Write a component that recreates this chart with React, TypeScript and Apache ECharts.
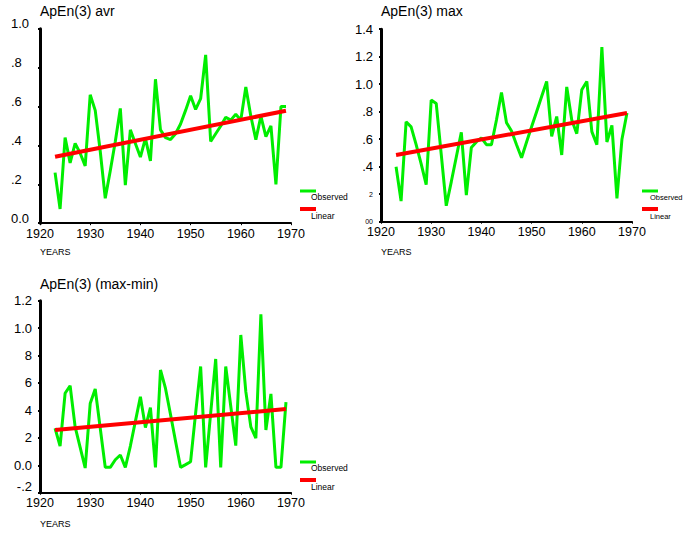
import React, { useEffect, useRef } from "react";
import * as echarts from "echarts";

const years = [
  1923, 1924, 1925, 1926, 1927, 1928, 1929, 1930, 1931, 1932,
  1933, 1934, 1935, 1936, 1937, 1938, 1939, 1940, 1941, 1942,
  1943, 1944, 1945, 1946, 1947, 1948, 1949, 1950, 1951, 1952,
  1953, 1954, 1955, 1956, 1957, 1958, 1959, 1960, 1961, 1962,
  1963, 1964, 1965, 1966, 1967, 1968, 1969,
];

const avrObserved = [
  0.26, 0.073, 0.44, 0.31, 0.41, 0.36, 0.295, 0.66, 0.58, 0.37,
  0.128, 0.27, 0.42, 0.59, 0.196, 0.48, 0.41, 0.34, 0.436, 0.32,
  0.74, 0.48, 0.44, 0.43, 0.46, 0.51, 0.58, 0.655, 0.585, 0.64,
  0.865, 0.42, 0.46, 0.5, 0.545, 0.53, 0.56, 0.53, 0.7, 0.55,
  0.43, 0.55, 0.445, 0.5, 0.2, 0.6, 0.6,
];

const maxObserved = [
  0.4, 0.15, 0.727, 0.69, 0.56, 0.42, 0.27, 0.885, 0.86, 0.49,
  0.116, 0.29, 0.47, 0.65, 0.194, 0.54, 0.58, 0.61, 0.56, 0.56,
  0.74, 0.94, 0.72, 0.66, 0.56, 0.465, 0.58, 0.69, 0.8, 0.91,
  1.02, 0.62, 0.765, 0.485, 0.98, 0.74, 0.64, 0.96, 1.02, 0.655,
  0.56, 1.27, 0.58, 0.7, 0.17, 0.6, 0.79,
];

const rangeObserved = [
  0.27, 0.14, 0.525, 0.58, 0.28, 0.13, -0.02, 0.45, 0.556, 0.27,
  -0.015, -0.015, 0.04, 0.075, -0.015, 0.14, 0.32, 0.5, 0.275, 0.42,
  -0.015, 0.695, 0.56, 0.37, 0.175, -0.015, 0.005, 0.026, 0.38, 0.72,
  -0.015, 0.38, 0.775, -0.015, 0.72, 0.43, 0.143, 0.95, 0.537, 0.28,
  0.197, 1.1, 0.257, 0.52, -0.015, -0.015, 0.46,
];

const linearYears = [1923, 1969];
const avrLinear = [0.342, 0.578];
const maxLinear = [0.485, 0.79];
const rangeLinear = [0.257, 0.41];

const xTickLabels = ["1920", "1930", "1940", "1950", "1960", "1970"];
const avrTickLabels = ["0.0", ".2", ".4", ".6", ".8", "1.0"];
const maxTickLabels = ["00", "2", ".4", ".6", ".8", "1.0", "1.2", "1.4"];
const rangeTickLabels = ["-.2", "0.0", "2", "4", "6", "8", "1.0", "1.2"];

const titles = ["ApEn(3) avr", "ApEn(3) max", "ApEn(3) (max-min)"];
const legendNames = ["Observed", "Linear"];

const NARROW = "'Liberation Sans Narrow', 'Liberation Sans', Arial, sans-serif";
const SANS = "'Liberation Sans', Arial, sans-serif";
const GREEN = "#00ee00";
const RED = "#ff0000";

function pairs(xs: number[], ys: number[]) {
  return ys.map((v, i) => [xs[i], v]);
}

export default function App() {
  const ref = useRef<HTMLDivElement>(null);

  useEffect(() => {
    if (!ref.current) return;
    const chart = echarts.init(ref.current, null, { renderer: "svg" });

    const grids = [
      { left: 40, top: 28.7, width: 251, height: 194.5 },
      { left: 381, top: 29.2, width: 251, height: 192.5 },
      { left: 40, top: 300.7, width: 251, height: 192 },
    ];

    const yCfg = [
      { min: 0, max: 1, labels: avrTickLabels, align: "left", margin: 29, small: [] as number[], raise: [] as number[], up: true },
      { min: 0, max: 1.4, labels: maxTickLabels, align: "right", margin: 8, small: [0, 1], raise: [] as number[], up: false },
      { min: -0.2, max: 1.2, labels: rangeTickLabels, align: "right", margin: 8, small: [] as number[], raise: [0], up: false },
    ];

    const xAxis = grids.map((_, i) => ({
      type: "value",
      gridIndex: i,
      min: 1920,
      max: 1970,
      interval: 10,
      axisLine: { show: true, onZero: false, lineStyle: { color: "#000", width: 2 } },
      axisTick: { show: true, length: 2, lineStyle: { color: "#000", width: 1 } },
      axisLabel: {
        margin: 4,
        fontSize: 12.5,
        fontFamily: NARROW,
        color: "#000",
        formatter: (v: number) => xTickLabels[Math.round((v - 1920) / 10)] ?? "",
      },
      splitLine: { show: false },
    }));

    const yAxis = yCfg.map((c, i) => ({
      type: "value",
      gridIndex: i,
      min: c.min,
      max: c.max,
      interval: 0.2,
      axisLine: { show: true, onZero: false, lineStyle: { color: "#000", width: 3 } },
      axisTick: { show: true, length: 2, lineStyle: { color: "#000", width: 2 } },
      axisLabel: {
        margin: c.margin,
        align: c.align,
        fontSize: 13,
        fontFamily: NARROW,
        color: "#000",
        padding: c.up ? [0, 0, 10, 0] : 0,
        formatter: (v: number) => {
          const idx = Math.round((v - c.min) / 0.2);
          const t = c.labels[idx] ?? "";
          if (c.small.indexOf(idx) >= 0) return "{s|" + t + "}";
          if (c.raise.indexOf(idx) >= 0) return "{u|" + t + "}";
          return t;
        },
        rich: {
          s: { fontSize: 7, fontFamily: SANS, color: "#000" },
          u: { fontSize: 13, fontFamily: NARROW, color: "#000", padding: [0, 0, 12, 0] },
        },
      },
      splitLine: { show: false },
    }));

    const observed = [avrObserved, maxObserved, rangeObserved];
    const linear = [avrLinear, maxLinear, rangeLinear];
    const series: any[] = [];
    for (let i = 0; i < 3; i++) {
      series.push({
        type: "line",
        name: legendNames[0],
        xAxisIndex: i,
        yAxisIndex: i,
        data: pairs(years, observed[i]),
        showSymbol: false,
        lineStyle: { color: GREEN, width: 3 },
        z: 2,
      });
      series.push({
        type: "line",
        name: legendNames[1],
        xAxisIndex: i,
        yAxisIndex: i,
        data: pairs(linearYears, linear[i]),
        showSymbol: false,
        lineStyle: { color: RED, width: 4 },
        z: 3,
      });
    }

    const title = [
      { text: titles[0], left: 40, top: 4 },
      { text: titles[1], left: 381, top: 4 },
      { text: titles[2], left: 40, top: 277 },
    ].map((t) => ({
      ...t,
      padding: 0,
      textStyle: { fontSize: 14, fontWeight: "normal", fontFamily: SANS, color: "#000" },
    }));

    const legendPos = [
      { x: 300, y: 191, tx: 311, fs: 8.5 },
      { x: 642, y: 191, tx: 650, fs: 7.5 },
      { x: 300, y: 462, tx: 311, fs: 8.5 },
    ];
    const graphic: any[] = [];
    legendPos.forEach((p) => {
      graphic.push({
        type: "line",
        shape: { x1: p.x, y1: p.y, x2: p.x + 16, y2: p.y },
        style: { stroke: GREEN, lineWidth: 3 },
      });
      graphic.push({
        type: "text",
        x: p.tx,
        y: p.y + 6,
        style: { text: legendNames[0], fontSize: p.fs, fontFamily: SANS, fill: "#000", verticalAlign: "middle" },
      });
      graphic.push({
        type: "line",
        shape: { x1: p.x, y1: p.y + 18, x2: p.x + 16, y2: p.y + 18 },
        style: { stroke: RED, lineWidth: 4 },
      });
      graphic.push({
        type: "text",
        x: p.tx,
        y: p.y + 25,
        style: { text: legendNames[1], fontSize: p.fs, fontFamily: SANS, fill: "#000", verticalAlign: "middle" },
      });
    });
    [
      { x: 40, y: 252 },
      { x: 381, y: 252 },
      { x: 40, y: 524 },
    ].forEach((p) => {
      graphic.push({
        type: "text",
        x: p.x,
        y: p.y,
        style: { text: "YEARS", fontSize: 9, fontFamily: SANS, fill: "#000", verticalAlign: "middle" },
      });
    });

    chart.setOption({
      animation: false,
      backgroundColor: "#fff",
      title,
      grid: grids,
      xAxis,
      yAxis,
      series,
      graphic,
    });

    return () => chart.dispose();
  }, []);

  return (
    <div
      ref={ref}
      style={{ position: "absolute", left: 0, top: 0, width: 684, height: 535, background: "#fff" }}
    />
  );
}
